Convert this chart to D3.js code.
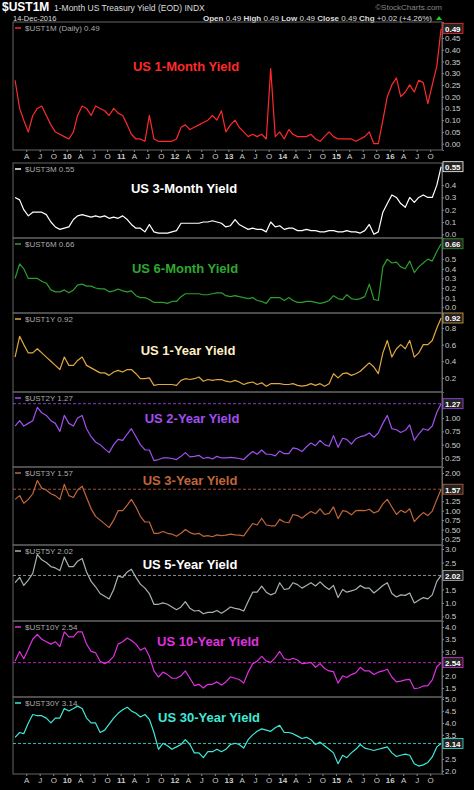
<!DOCTYPE html><html><head><meta charset="utf-8">
<script src="https://cdn.jsdelivr.net/npm/d3@7"></script>
<style>body{margin:0;background:#000}svg{display:block}text{font-family:"Liberation Sans",Arial,sans-serif}</style>
</head><body><svg id="c" width="474" height="790"></svg><script>
const ust1m = [0.27,0.15,0.10,0.05,0.12,0.15,0.16,0.12,0.08,0.05,0.04,0.03, 0.02,0.05,0.12,0.16,0.15,0.12,0.16,0.15,0.14,0.12,0.15,0.13, 0.12,0.08,0.04,0.02,0.02,0.01,0.12,0.02,0.01,0.01,0.01,0.01, 0.02,0.07,0.08,0.06,0.07,0.08,0.09,0.10,0.12,0.10,0.14,0.05, 0.08,0.10,0.07,0.05,0.03,0.04,0.03,0.04,0.02,0.32,0.03,0.05, 0.02,0.06,0.04,0.03,0.03,0.03,0.04,0.02,0.01,0.03,0.05,0.03, 0.02,0.02,0.02,0.02,0.01,0.02,0.03,0.05,0.00,0.00,0.10,0.20, 0.25,0.28,0.20,0.22,0.25,0.22,0.27,0.26,0.17,0.25,0.33,0.49];
const ust3m = [0.30,0.28,0.20,0.15,0.18,0.18,0.18,0.16,0.10,0.06,0.04,0.05, 0.06,0.12,0.15,0.16,0.15,0.14,0.15,0.14,0.15,0.13,0.14,0.13, 0.15,0.12,0.08,0.05,0.05,0.02,0.08,0.02,0.01,0.01,0.01,0.02, 0.03,0.09,0.09,0.09,0.09,0.09,0.10,0.10,0.11,0.10,0.09,0.06, 0.07,0.12,0.08,0.06,0.04,0.05,0.04,0.04,0.02,0.10,0.06,0.07, 0.04,0.05,0.05,0.03,0.03,0.04,0.03,0.03,0.02,0.02,0.03,0.03, 0.02,0.02,0.03,0.02,0.02,0.01,0.03,0.08,0.00,0.02,0.18,0.25, 0.32,0.30,0.25,0.22,0.30,0.26,0.30,0.32,0.30,0.30,0.40,0.55];
const ust6m = [0.30,0.45,0.40,0.30,0.30,0.30,0.27,0.25,0.18,0.16,0.16,0.18, 0.15,0.18,0.23,0.24,0.22,0.22,0.20,0.19,0.19,0.16,0.17,0.19, 0.17,0.16,0.17,0.12,0.10,0.10,0.08,0.05,0.05,0.05,0.04,0.06, 0.06,0.11,0.14,0.14,0.14,0.14,0.13,0.13,0.14,0.15,0.15,0.12, 0.11,0.12,0.11,0.10,0.09,0.10,0.07,0.06,0.04,0.10,0.10,0.10, 0.07,0.10,0.07,0.05,0.05,0.06,0.06,0.05,0.04,0.05,0.07,0.12, 0.09,0.08,0.13,0.09,0.08,0.09,0.11,0.24,0.08,0.07,0.42,0.50, 0.46,0.47,0.42,0.40,0.48,0.36,0.42,0.46,0.50,0.48,0.58,0.66];
const ust1y = [0.45,0.70,0.60,0.50,0.50,0.55,0.50,0.45,0.40,0.35,0.30,0.45, 0.35,0.35,0.41,0.45,0.35,0.32,0.29,0.26,0.26,0.23,0.27,0.29, 0.27,0.30,0.30,0.25,0.19,0.19,0.20,0.11,0.12,0.12,0.12,0.12, 0.11,0.17,0.19,0.18,0.19,0.21,0.16,0.18,0.17,0.18,0.18,0.16, 0.15,0.17,0.15,0.12,0.14,0.15,0.12,0.14,0.10,0.13,0.13,0.13, 0.12,0.12,0.13,0.11,0.10,0.11,0.13,0.11,0.13,0.10,0.13,0.25, 0.20,0.25,0.26,0.23,0.25,0.28,0.33,0.38,0.33,0.25,0.50,0.65, 0.45,0.55,0.60,0.55,0.65,0.45,0.50,0.60,0.60,0.65,0.80,0.92];
const ust2y = [0.85,0.95,0.85,0.90,0.95,1.20,1.10,1.05,0.95,0.90,0.75,1.05, 0.90,0.85,1.00,1.05,0.80,0.65,0.55,0.50,0.42,0.35,0.50,0.60, 0.58,0.70,0.80,0.65,0.50,0.40,0.40,0.20,0.22,0.25,0.25,0.24, 0.22,0.28,0.35,0.27,0.28,0.30,0.24,0.26,0.23,0.28,0.25,0.25, 0.26,0.25,0.24,0.22,0.30,0.37,0.32,0.40,0.32,0.32,0.29,0.38, 0.33,0.33,0.44,0.42,0.37,0.46,0.53,0.48,0.58,0.50,0.47,0.67, 0.45,0.62,0.60,0.51,0.61,0.65,0.67,0.72,0.64,0.72,0.90,1.05, 0.80,0.78,0.73,0.77,0.87,0.58,0.70,0.80,0.77,0.85,1.11,1.27];
const ust3y = [1.30,1.40,1.20,1.30,1.45,1.80,1.60,1.55,1.45,1.40,1.30,1.70, 1.40,1.35,1.55,1.65,1.35,1.05,0.85,0.75,0.65,0.55,0.75,1.00, 1.00,1.15,1.30,1.10,0.85,0.70,0.70,0.40,0.40,0.45,0.40,0.38, 0.32,0.40,0.50,0.42,0.38,0.40,0.32,0.34,0.31,0.36,0.34,0.35, 0.38,0.36,0.35,0.33,0.50,0.66,0.62,0.80,0.62,0.60,0.60,0.77, 0.70,0.68,0.90,0.87,0.80,0.90,0.98,0.92,1.05,0.90,0.93,1.10, 0.79,1.00,0.98,0.89,1.00,1.01,1.00,1.04,0.94,0.99,1.18,1.30, 1.10,0.90,1.01,0.95,1.05,0.71,0.84,0.95,0.87,0.99,1.30,1.57];
const ust5y = [1.75,1.95,1.65,1.85,2.10,2.80,2.60,2.50,2.35,2.30,2.20,2.70, 2.35,2.35,2.55,2.65,2.15,1.80,1.60,1.35,1.25,1.15,1.50,2.00, 1.95,2.15,2.25,1.95,1.70,1.55,1.35,0.95,0.95,1.00,0.95,0.85, 0.75,0.85,1.05,0.80,0.70,0.72,0.60,0.65,0.65,0.72,0.62,0.72, 0.85,0.80,0.77,0.70,1.05,1.40,1.40,1.62,1.40,1.30,1.37,1.75, 1.50,1.53,1.75,1.68,1.55,1.65,1.75,1.63,1.78,1.62,1.50,1.65, 1.20,1.50,1.40,1.45,1.50,1.65,1.55,1.55,1.37,1.50,1.65,1.75, 1.35,1.22,1.30,1.28,1.37,1.00,1.10,1.20,1.15,1.30,1.80,2.02];
const ust10y = [2.60,3.00,2.70,3.10,3.50,3.70,3.50,3.40,3.30,3.40,3.20,3.80, 3.60,3.60,3.80,3.80,3.30,3.00,2.95,2.60,2.50,2.60,2.80,3.30, 3.40,3.55,3.45,3.30,3.05,3.15,2.80,2.20,1.95,2.15,2.05,1.90, 1.90,2.00,2.20,1.90,1.60,1.65,1.50,1.65,1.65,1.75,1.62,1.75, 1.95,1.90,1.85,1.70,2.15,2.50,2.60,2.80,2.60,2.55,2.75,3.00, 2.70,2.65,2.72,2.65,2.50,2.52,2.55,2.35,2.50,2.30,2.20,2.17, 1.70,2.00,1.93,2.05,2.12,2.35,2.20,2.20,2.05,2.15,2.20,2.27, 1.95,1.75,1.78,1.83,1.85,1.47,1.50,1.58,1.60,1.83,2.37,2.54];
const ust30y = [3.40,3.60,3.55,4.00,4.35,4.30,4.30,4.20,4.00,4.20,4.20,4.60, 4.50,4.60,4.70,4.60,4.20,4.00,4.00,3.60,3.70,3.95,4.20,4.40, 4.55,4.65,4.50,4.40,4.25,4.35,4.15,3.60,2.90,3.15,3.05,2.90, 3.00,3.10,3.30,3.10,2.75,2.75,2.55,2.80,2.80,2.90,2.80,2.90, 3.10,3.15,3.10,2.95,3.30,3.50,3.65,3.75,3.70,3.65,3.80,3.90, 3.60,3.60,3.55,3.45,3.35,3.40,3.30,3.10,3.20,3.05,2.90,2.75, 2.30,2.65,2.55,2.75,2.90,3.10,2.95,2.90,2.85,2.90,2.95,3.00, 2.75,2.60,2.65,2.70,2.65,2.30,2.20,2.25,2.35,2.58,3.00,3.14];
const symbols = ["$UST1M","$UST3M","$UST6M","$UST1Y","$UST2Y","$UST3Y","$UST5Y","$UST10Y","$UST30Y"];
const titles = ["US 1-Month Yield","US 3-Month Yield","US 6-Month Yield","US 1-Year Yield","US 2-Year Yield","US 3-Year Yield","US 5-Year Yield","US 10-Year Yield","US 30-Year Yield"];
const lastLabels = ["0.49","0.55","0.66","0.92","1.27","1.57","2.02","2.54","3.14"];
const tickSets = [[0,.05,.1,.15,.2,.25,.3,.35,.4,.45],[0,.1,.2,.3,.4,.5],[0,.1,.2,.3,.4,.5,.6],[.2,.4,.6,.8],[.25,.5,.75,1],[.25,.5,.75,1,1.25,1.5,1.75,2],[.5,1,1.5,2,2.5,3],[1.5,2,2.5,3,3.5,4],[2,2.5,3,3.5,4,4.5,5]];
const tickFmt = [".2f",".1f",".1f",".1f",".2f",".2f",".1f",".1f",".1f"];
const series = [ust1m,ust3m,ust6m,ust1y,ust2y,ust3y,ust5y,ust10y,ust30y];

const colors = ["#ff2a2a","#ffffff","#2e9e2e","#e0a840","#a050f0","#c0663a","#a8b2b2","#e030e0","#40e8d8"];
const titleColors = ["#ff2a2a","#ffffff","#2ea82e","#fff0c8","#a050f0","#c0663a","#ffffff","#e030e0","#40e8d8"];
const tops = [22,163,238,313,392,467,545,621,697], bottoms=[150,238,313,392,467,545,621,697,774];
const yDom = [[-0.027,0.518],[-0.03,0.58],[-0.06,0.72],[0.03,0.98],[0.08,1.49],[0.09,2.16],[0.33,3.15],[1.13,4.25],[1.87,5.08]];
const titlePos = [[186,71],[184,193],[185,273],[188,355],[192,423],[190,485],[190,569],[208,646],[209,722]];
const dashed = [false,false,false,false,true,true,true,true,true];
const L=13,R=442;
const svg=d3.select("#c");
svg.append("rect").attr("width",474).attr("height",790).attr("fill","#000");
const x=d3.scaleTime().domain([new Date(2009,0,1),new Date(2016,11,20)]).range([L,R]);
const dateOf=(i)=> i===95? new Date(2016,11,14) : new Date(2009,i,15);

const h=svg.append("g");
h.append("text").attr("x",2).attr("y",11).attr("fill","#fff").attr("font-size",12).attr("font-weight","bold").text("$UST1M");
h.append("text").attr("x",54).attr("y",10.5).attr("fill","#ddd").attr("font-size",8.5).text("1-Month US Treasury Yield (EOD)  INDX");
h.append("text").attr("x",13).attr("y",20.5).attr("fill","#ddd").attr("font-size",7.5).text("14-Dec-2016");
h.append("text").attr("x",442).attr("y",10).attr("text-anchor","end").attr("fill","#888").attr("font-size",8).text("©StockCharts.com");
const ht=h.append("text").attr("x",432).attr("y",20.5).attr("text-anchor","end").attr("fill","#ddd").attr("font-size",8);
[["Open",0.49],["High",0.49],["Low",0.49],["Close",0.49]].forEach(([k,v])=>{ht.append("tspan").attr("font-weight","bold").text(k+" ");ht.append("tspan").text(v.toFixed(2)+"  ");});
ht.append("tspan").attr("font-weight","bold").text("Chg ");ht.append("tspan").text("+0.02 (+4.26%)");
h.append("path").attr("d","M436,20 l3,-4 l3,4z").attr("fill","#2c2");

series.forEach((data,k)=>{
  const y=d3.scaleLinear().domain(yDom[k]).range([bottoms[k],tops[k]]);
  const last=data[data.length-1];
  const g=svg.append("g");
  g.append("rect").attr("x",L).attr("y",tops[k]).attr("width",R-L).attr("height",bottoms[k]-tops[k]).attr("fill","none").attr("stroke","#666").attr("stroke-width",1);
  const tv=tickSets[k].filter(t=>Math.abs(y(t)-y(last))>8);
  const ax=d3.axisRight(y).tickValues(tv).tickFormat(d3.format(tickFmt[k])).tickSize(2);
  const axg=g.append("g").attr("transform",`translate(${R},0)`).call(ax);
  axg.select(".domain").attr("stroke","#666");
  axg.selectAll("line").attr("stroke","#888");
  axg.selectAll("text").attr("fill","#ccc").attr("font-size",8).attr("x",3);
  if(dashed[k]) g.append("line").attr("x1",L).attr("x2",R).attr("y1",y(last)).attr("y2",y(last)).attr("stroke",colors[k]).attr("stroke-dasharray","3,2").attr("stroke-width",0.8);
  g.append("path").datum(data).attr("fill","none").attr("stroke",colors[k]).attr("stroke-width",1.2).attr("stroke-linejoin","round")
   .attr("d",d3.line().x((d,i)=>x(dateOf(i))).y(d=>y(d)));
  g.append("rect").attr("x",R+1).attr("y",y(last)-5).attr("width",20).attr("height",10).attr("fill","#222").attr("stroke",colors[k]).attr("stroke-width",0.8);
  g.append("text").attr("x",R+3).attr("y",y(last)+3.5).attr("fill","#fff").attr("font-size",8).attr("font-weight","bold").text(lastLabels[k]);
  g.append("line").attr("x1",15).attr("x2",21).attr("y1",tops[k]+6).attr("y2",tops[k]+6).attr("stroke",colors[k]).attr("stroke-width",1.5);
  g.append("text").attr("x",25).attr("y",tops[k]+9).attr("fill","#aaa").attr("font-size",8).text(symbols[k]+(k===0?" (Daily) ":" ")+lastLabels[k]);
  g.append("text").attr("x",titlePos[k][0]).attr("y",titlePos[k][1]).attr("text-anchor","middle").attr("fill",titleColors[k]).attr("font-size",13).attr("font-weight","bold").text(titles[k]);
});

const ticks=d3.timeMonth.every(3).range(new Date(2009,2,1),new Date(2016,11,1)).filter(d=>d>=new Date(2009,3,1));
[150,774].forEach(yy=>{
  const xa=d3.axisBottom(x).tickValues(ticks).tickSize(2).tickFormat(d=>d.getMonth()===0?d3.timeFormat("%y")(d):"AJO"[(d.getMonth()/3)-1]);
  const gx=svg.append("g").attr("transform",`translate(0,${yy})`).call(xa);
  gx.select(".domain").remove();
  gx.selectAll("line").attr("stroke","#888");
  gx.selectAll("text").attr("fill","#ccc").attr("font-size",8).attr("dy","0.5em").attr("font-weight",d=>d.getMonth()===0?"bold":"normal");
});
</script></body></html>
